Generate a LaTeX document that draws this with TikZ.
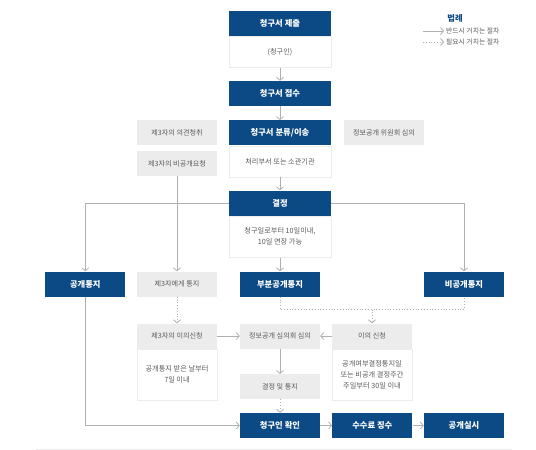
\documentclass[tikz,border=0pt]{standalone}
\usepackage{fontspec}
\setmainfont{Noto Sans CJK KR}
\usetikzlibrary{arrows.meta,positioning}
\definecolor{navy}{HTML}{0C4A86}
\definecolor{boxgray}{HTML}{ECECEC}
\definecolor{linegray}{HTML}{B0B0B0}
\definecolor{txtgray}{HTML}{5A5A5A}
\tikzset{
  head/.style={fill=navy,text=white,font=\fontsize{8.3}{10}\selectfont\bfseries,minimum height=25pt,inner sep=0pt},
  wide/.style={minimum width=102pt},
  narrow/.style={minimum width=80pt},
  grey/.style={fill=boxgray,text=txtgray,font=\fontsize{7.1}{9}\selectfont,minimum width=80pt,minimum height=25pt,inner sep=0pt},
  body/.style={draw=boxgray,line width=0.8pt,fill=white,text=txtgray,font=\fontsize{7.2}{11}\selectfont,align=center,inner sep=0pt,anchor=north},
  flow/.style={draw=linegray,line width=0.8pt,-{Straight Barb[length=3pt,width=7pt]}},
  maybe/.style={flow,dotted}
}
\begin{document}
\begin{tikzpicture}[x=1pt,y=-1pt]
  \useasboundingbox (0,0) rectangle (536,450);
  % main column
  \node[head,wide] (sub) at (280,23.2) {청구서 제출};
  \node[body,wide,minimum height=31pt] (sub-b) at (sub.south) {(청구인)};
  \node[head,wide] (rcv) at (280,93.5) {청구서 접수};
  \node[head,wide] (cls) at (280,132.8) {청구서 분류/이송};
  \node[body,wide,minimum height=31pt] (cls-b) at (cls.south) {처리부서 또는 소관기관};
  \node[head,wide] (dec) at (280,203) {결정};
  \node[body,wide,minimum height=41pt] (dec-b) at (dec.south) {청구일로부터 10일이내,\\10일 연장 가능};
  % side boxes
  \node[grey] (hear3) at (177,132.5) {제3자의 의견청취};
  \node[grey] (req3) at (177,163.5) {제3자의 비공개요청};
  \node[grey] (cmte) at (384,132.5) {정보공개 위원회 심의};
  % notices
  \node[head,narrow] (open) at (85.3,284) {공개통지};
  \node[grey] (notify3) at (177,284) {제3자에게 통지};
  \node[head,narrow] (part) at (280,284) {부분공개통지};
  \node[head,narrow] (closed) at (464,284) {비공개통지};
  % objections
  \node[grey] (obj3) at (177,336) {제3자의 이의신청};
  \node[body,narrow,minimum height=51pt] (obj3-b) at (obj3.south) {공개통지 받은 날부터\\7일 이내};
  \node[grey] (review) at (280,336) {정보공개 심의회 심의};
  \node[grey] (result) at (280,386.7) {결정 및 통지};
  \node[grey] (appeal) at (372,336) {이의 신청};
  \node[body,narrow,minimum height=51pt] (appeal-b) at (appeal.south) {공개여부결정통지일\\또는 비공개 결정주간\\주일부터 30일 이내};
  % last row
  \node[head,narrow] (confirm) at (280,425.5) {청구인 확인};
  \node[head,narrow] (fee) at (372.3,425.5) {수수료 징수};
  \node[head,narrow] (run) at (464,425.5) {공개실시};

  \draw[flow] (sub-b) -- (rcv);
  \draw[flow] (rcv) -- (cls);
  \draw[flow] (cls-b) -- (dec);
  \draw[flow] (dec-b) -- (part);
  \draw[flow] (dec.west) -| (open);
  \draw[flow] (dec.east) -| (closed);
  \draw[flow] (req3) -- (notify3);
  \draw[maybe] (notify3) -- (obj3);
  \coordinate (split) at (280,309.5);
  \draw[draw=linegray,line width=0.8pt,dotted] (part) -- (split) -| (closed);
  \draw[maybe] (split -| appeal) -- (appeal);
  \draw[flow] (obj3) -- (review);
  \draw[flow] (appeal) -- (review);
  \draw[flow] (review) -- (result);
  \draw[maybe] (result) -- (confirm);
  \draw[flow] (open) |- (confirm);
  \draw[flow] (confirm) -- (fee);
  \draw[flow] (fee) -- (run);

  % legend
  \node[text=navy,font=\fontsize{8.3}{10}\selectfont\bfseries] (legend) at (455,18) {법례};
  \coordinate (l1a) at (423,31);
  \coordinate (l1b) at (444,31);
  \coordinate (l2a) at (423,42);
  \coordinate (l2b) at (444,42);
  \draw[flow] (l1a) -- (l1b);
  \draw[maybe] (l2a) -- (l2b);
  \node[anchor=west,text=txtgray,font=\fontsize{6.8}{8}\selectfont,inner sep=2pt] (must) at (l1b) {반드시 거치는 절차};
  \node[anchor=west,text=txtgray,font=\fontsize{6.8}{8}\selectfont,inner sep=2pt] (need) at (l2b) {필요시 거치는 절차};

  \draw[boxgray,line width=0.8pt] (36,449) -- (512,449);
\end{tikzpicture}
\end{document}
